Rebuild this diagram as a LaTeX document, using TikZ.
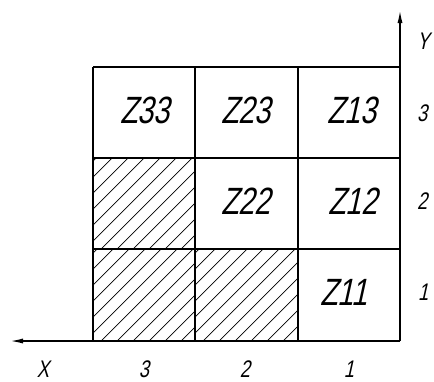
\documentclass[tikz,border=0pt]{standalone}
\usepackage{fontspec}
\newfontfamily\gost[FakeStretch=0.76,FakeSlant=0.22]{Liberation Sans}
\usetikzlibrary{arrows.meta}
\tikzset{
  grid line/.style={line width=2pt},
  axis line/.style={line width=1.8pt,-{Latex[length=14pt,width=5pt]}},
  hatch line/.style={line width=0.7pt},
  cell text/.style={font=\gost\fontsize{38}{38}\selectfont},
  axis text/.style={font=\gost\fontsize{24}{24}\selectfont,inner sep=0pt}
}
\begin{document}
\begin{tikzpicture}[x=1pt,y=-1pt]
\useasboundingbox (0,0) rectangle (434,381);
% hatching
\foreach \xa/\ya/\xb/\yb in {93/158/195/249, 93/249/195/341, 195/249/298/341}{
  \begin{scope}
    \clip (\xa,\ya) rectangle (\xb,\yb);
    \foreach \c in {0,16,...,400}{
      \draw[hatch line] (\xa+\c-200,\yb) -- ++(200,-200);
    }
  \end{scope}
}
% grid
\foreach \x in {93,195,298}{\draw[grid line] (\x,67) -- (\x,341);}
\foreach \y in {67,158,249}{\draw[grid line] (93,\y) -- (400,\y);}
% axes
\coordinate (O) at (400,341);
\coordinate (xend) at (9,341);
\coordinate (yend) at (400,9);
\draw[axis line] (O) -- (xend);
\draw[axis line] (O) -- (yend);
% cell labels
\node[cell text] (z33) at (145,110) {Z33};
\node[cell text] (z23) at (246,110) {Z23};
\node[cell text] (z13) at (352,110) {Z13};
\node[cell text] (z22) at (246,201) {Z22};
\node[cell text] (z12) at (353,201) {Z12};
\node[cell text] (z11) at (344,292) {Z11};
% axis labels
\node[axis text] (lx) at (43,369) {X};
\node[axis text] (lx3) at (144,369) {3};
\node[axis text] (lx2) at (245,369) {2};
\node[axis text] (lx1) at (349,369) {1};
\node[axis text,anchor=west] (ly) at (417,41) {Y};
\node[axis text,anchor=west] (ly3) at (417,113) {3};
\node[axis text,anchor=west] (ly2) at (417,201) {2};
\node[axis text,anchor=west] (ly1) at (418,292) {1};
\end{tikzpicture}
\end{document}
